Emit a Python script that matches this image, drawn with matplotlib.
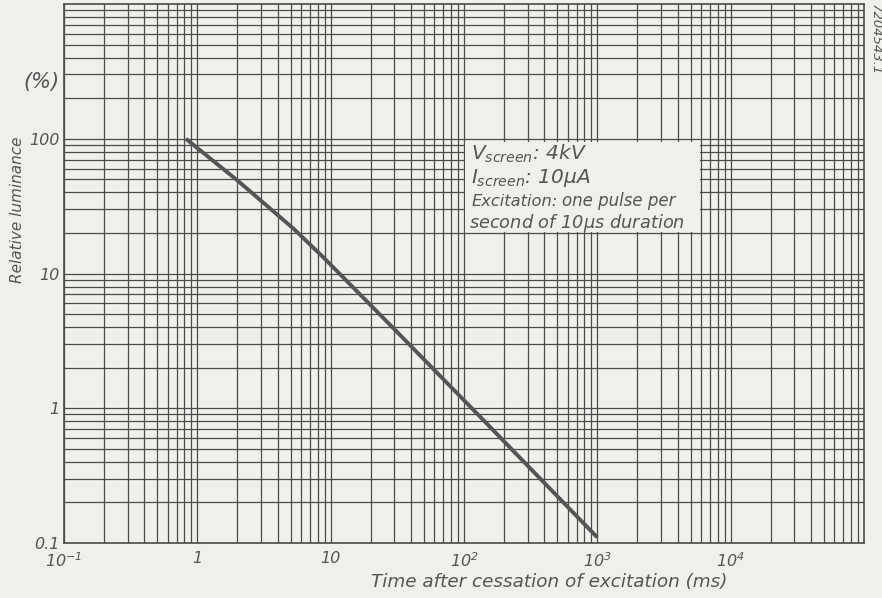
import numpy as np
import matplotlib
matplotlib.use("Agg")
import matplotlib.pyplot as plt
from matplotlib.patches import Rectangle
from matplotlib.ticker import FixedLocator, FixedFormatter, NullFormatter

# values
time_ms = [0.82, 2.0, 5.3, 8.8, 14, 29, 127, 1000]
luminance = [100, 49, 21.4, 13.2, 8.3, 4.0, 0.9, 0.11]

x_ticks = [0.1, 1, 10, 100, 1000, 10000]
x_labels = ['10$^{-1}$', '1', '10', '10$^{2}$', '10$^{3}$', '10$^{4}$']
y_ticks = [0.1, 1, 10, 100]
y_labels = ['0.1', '1', '10', '100']

paper = '#efefec'
ink = '#4a4a4a'

plt.rcParams['font.family'] = 'DejaVu Sans'
plt.rcParams['font.style'] = 'italic'
plt.rcParams['mathtext.fontset'] = 'dejavusans'
plt.rcParams['mathtext.default'] = 'it'

fig = plt.figure(figsize=(8.82, 5.98), dpi=100, facecolor=paper)
ax = fig.add_axes([64/882, 55/598, 800/882, 539/598])
ax.set_facecolor(paper)

ax.set_xscale('log')
ax.set_yscale('log')
ax.set_xlim(0.1, 1e5)
ax.set_ylim(0.1, 1000)

ax.grid(which='both', color=ink, lw=0.9)
ax.set_axisbelow(True)

ax.plot(time_ms, luminance, color='#555555', lw=2.8, solid_capstyle='butt', zorder=3)

ax.xaxis.set_major_locator(FixedLocator(x_ticks))
ax.xaxis.set_major_formatter(FixedFormatter(x_labels))
ax.xaxis.set_minor_formatter(NullFormatter())
ax.yaxis.set_major_locator(FixedLocator(y_ticks))
ax.yaxis.set_major_formatter(FixedFormatter(y_labels))
ax.yaxis.set_minor_formatter(NullFormatter())
ax.tick_params(which='both', length=0, labelsize=11.5, colors='#555555')
ax.tick_params(axis='x', pad=6)
ax.tick_params(axis='y', pad=3)

for s in ax.spines.values():
    s.set_color(ink)
    s.set_linewidth(1.2)

# blank panel for the conditions
ax.add_patch(Rectangle((0.501, 0.577), 0.294, 0.167, transform=ax.transAxes,
                       facecolor=paper, edgecolor='none', zorder=2))
tc = '#555555'
ax.text(0.509, 0.712, r'$V_{screen}$: 4kV', transform=ax.transAxes, fontsize=14.5,
        color=tc, va='baseline', zorder=4)
ax.text(0.509, 0.668, r'$I_{screen}$: 10$\mu$A', transform=ax.transAxes, fontsize=14.5,
        color=tc, va='baseline', zorder=4)
ax.text(0.509, 0.625, 'Excitation:', transform=ax.transAxes, fontsize=11.7,
        color=tc, va='baseline', zorder=4)
ax.text(0.6225, 0.625, 'one pulse per', transform=ax.transAxes, fontsize=12,
        color=tc, va='baseline', zorder=4)
ax.text(0.506, 0.584, r'second of 10$\mu$s duration', transform=ax.transAxes, fontsize=12.8,
        color=tc, va='baseline', zorder=4)

ax.text(-0.006, 0.855, '(%)', transform=ax.transAxes, fontsize=15, color=tc,
        ha='right', va='center')

fig.text(18/882, 1 - 210/598, 'Relative luminance', rotation=90, fontsize=11,
         color=tc, ha='center', va='center')
fig.text(549/882, 1 - 582/598, 'Time after cessation of excitation (ms)', fontsize=13.2,
         color=tc, ha='center', va='center')
fig.text(875/882, 1 - 4/598, '7204543.1', rotation=-90, fontsize=9.5,
         color=tc, ha='center', va='top')

fig.savefig('out.png', dpi=100, facecolor=paper)
